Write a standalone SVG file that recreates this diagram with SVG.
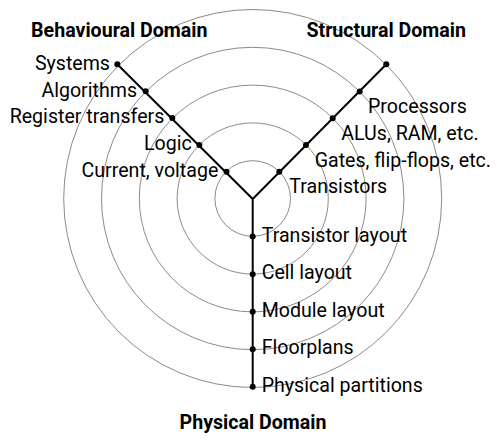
<svg xmlns="http://www.w3.org/2000/svg" width="504" height="443" viewBox="0 0 504 443">
<style>
.ring{fill:none;stroke:#8f8a86;stroke-width:1}
.axis{fill:none;stroke:#000;stroke-width:2}
.dot{fill:#000}
text{font-family:Roboto,"Liberation Sans",sans-serif;font-size:19.6px;fill:#000}
.title{font-weight:bold}
.r{text-anchor:end}
</style>
<rect width="504" height="443" fill="#fff"/>
<g id="rings">
<circle class="ring" cx="252.7" cy="198.5" r="37.8"/>
<circle class="ring" cx="252.7" cy="198.5" r="75.6"/>
<circle class="ring" cx="252.7" cy="198.5" r="113.4"/>
<circle class="ring" cx="252.7" cy="198.5" r="151.2"/>
<circle class="ring" cx="252.7" cy="198.5" r="189"/>
</g>
<g id="connectors">
<path class="axis" d="M252.7,199 L117.3,64.3 M252.7,199 L386.3,64.3 M252.7,199 L252.7,386.7"/>
</g>
<g id="behavioural">
<text class="title" x="119.3" y="37" text-anchor="middle">Behavioural Domain</text>
<circle class="dot" cx="117.3" cy="64.3" r="3"/>
<circle class="dot" cx="145.7" cy="91.3" r="3"/>
<circle class="dot" cx="172.3" cy="118" r="3"/>
<circle class="dot" cx="199.3" cy="145" r="3"/>
<circle class="dot" cx="226.5" cy="171.7" r="3"/>
<text class="r" x="110" y="70">Systems</text>
<text class="r" x="137" y="96.7">Algorithms</text>
<text class="r" x="164.3" y="123.3">Register transfers</text>
<text class="r" x="191.7" y="150">Logic</text>
<text class="r" x="218.3" y="176.7">Current, voltage</text>
</g>
<g id="structural">
<text class="title" x="386.2" y="37" text-anchor="middle">Structural Domain</text>
<circle class="dot" cx="386.3" cy="64.3" r="3"/>
<circle class="dot" cx="359.7" cy="91.5" r="3"/>
<circle class="dot" cx="332.7" cy="118.3" r="3"/>
<circle class="dot" cx="306" cy="145" r="3"/>
<circle class="dot" cx="279.3" cy="171.7" r="3"/>
<text x="368" y="113.3">Processors</text>
<text x="341.3" y="140">ALUs, RAM, etc.</text>
<text x="314.7" y="166.7">Gates, flip-flops, etc.</text>
<text x="289.3" y="193.3">Transistors</text>
</g>
<g id="physical">
<text class="title" x="253" y="428.7" text-anchor="middle">Physical Domain</text>
<circle class="dot" cx="252.7" cy="236.5" r="3"/>
<circle class="dot" cx="252.7" cy="274.2" r="3"/>
<circle class="dot" cx="252.7" cy="311.8" r="3"/>
<circle class="dot" cx="252.7" cy="349.3" r="3"/>
<circle class="dot" cx="252.7" cy="386.7" r="3"/>
<text x="261.7" y="241.7">Transistor layout</text>
<text x="261.7" y="279.3">Cell layout</text>
<text x="261.7" y="316.7">Module layout</text>
<text x="261.7" y="354.3">Floorplans</text>
<text x="261.7" y="392">Physical partitions</text>
</g>
</svg>
